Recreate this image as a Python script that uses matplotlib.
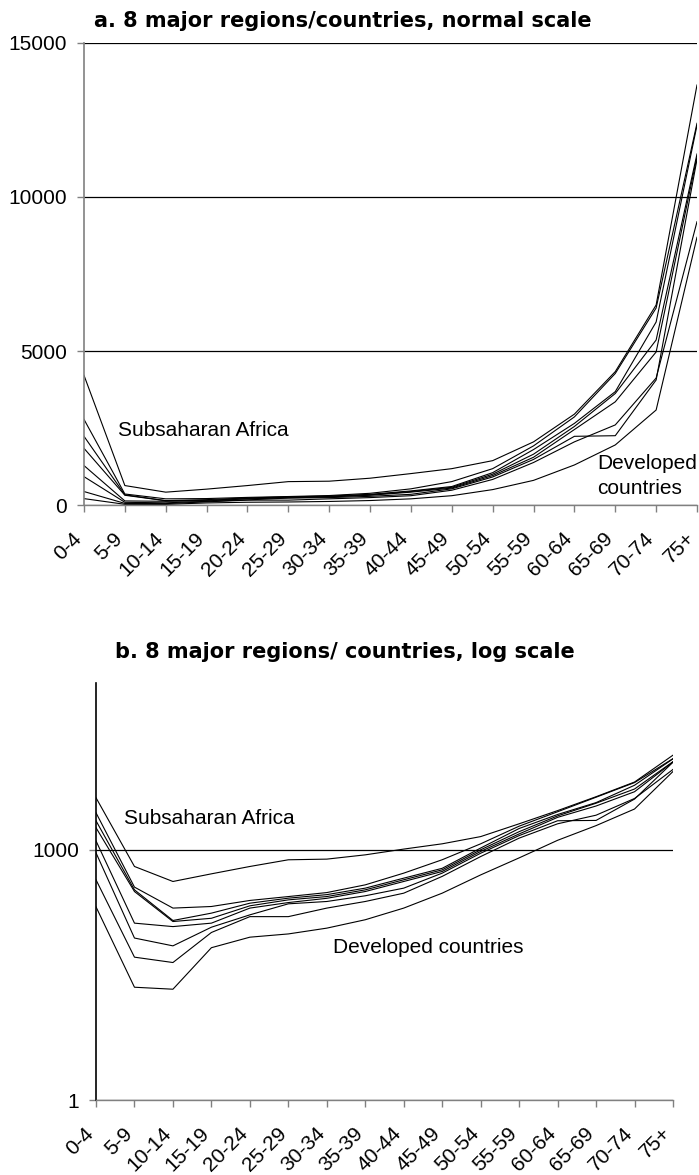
import numpy as np
import matplotlib
matplotlib.use("Agg")
import matplotlib.pyplot as plt
import matplotlib.transforms as mtransforms
from matplotlib.ticker import FixedLocator, NullLocator

plt.rcParams['font.family'] = ['Liberation Sans', 'DejaVu Sans']

age_groups = ['0-4', '5-9', '10-14', '15-19', '20-24', '25-29', '30-34', '35-39',
              '40-44', '45-49', '50-54', '55-59', '60-64', '65-69', '70-74', '75+']

# death rates by age group, one list per region
subsaharan_africa = [4210, 631, 417, 515, 631, 759, 773, 870, 1020, 1180, 1440, 2050, 2950, 4330, 6494, 13636]
region_2 = [2780, 357, 200, 209, 247, 275, 307, 380, 525, 760, 1180, 1920, 2860, 4270, 6396, 12393]
region_3 = [2230, 331, 142, 174, 229, 263, 290, 347, 457, 600, 1050, 1800, 2650, 3680, 5942, 12328]
region_4 = [1840, 316, 138, 151, 213, 251, 275, 331, 437, 575, 1000, 1650, 2550, 3620, 5357, 11396]
region_5 = [1280, 132, 120, 132, 200, 233, 262, 316, 417, 550, 955, 1550, 2450, 3350, 4968, 11308]
region_6 = [920, 87.5, 70.5, 118, 166, 225, 240, 281, 347, 525, 910, 1480, 2230, 2250, 4058, 11224]
region_7 = [437, 51.6, 44.5, 102, 158, 158, 200, 240, 302, 480, 830, 1380, 2050, 2600, 4123, 9198]
developed_countries = [207, 22.5, 21.3, 67, 89.6, 98, 115, 145, 200, 302, 500, 800, 1300, 1950, 3084, 8692]

regions = [subsaharan_africa, region_2, region_3, region_4, region_5, region_6,
           region_7, developed_countries]

W, H = 699, 1175
fig = plt.figure(figsize=(W / 100, H / 100), dpi=100)
fig.set_facecolor('white')


def box(left, top, right, bottom):
    return [left / W, 1 - bottom / H, (right - left) / W, (bottom - top) / H]


x = np.arange(len(age_groups))
grey = '#808080'
fs = 15
shift = mtransforms.ScaledTranslation(-5 / 100, 0, fig.dpi_scale_trans)


def style(ax, spine_col):
    for s in ['top', 'right']:
        ax.spines[s].set_visible(False)
    ax.spines['left'].set_color(spine_col)
    ax.spines['bottom'].set_color(grey)
    ax.spines['left'].set_linewidth(1.2)
    ax.spines['bottom'].set_linewidth(1.0)
    ax.set_xlim(0, len(age_groups) - 1)
    ax.set_xticks(x)
    ax.set_xticklabels(age_groups, rotation=45, ha='right', va='center',
                       rotation_mode='anchor')
    ax.tick_params(axis='both', direction='out', length=5, width=1,
                   color=grey, labelsize=fs, pad=7)
    ax.tick_params(axis='x', pad=17)
    for lab in ax.get_xticklabels():
        lab.set_transform(lab.get_transform() + shift)


# a. normal scale
ax1 = fig.add_axes(box(84, 43, 697, 505))
for r in regions:
    ax1.plot(x, r, color='black', lw=0.8)
ax1.set_ylim(0, 15000)
ax1.set_yticks([0, 5000, 10000, 15000])
ax1.yaxis.grid(True, color='black', lw=0.9)
ax1.set_axisbelow(True)
style(ax1, grey)
ax1.text(0.83, 2435, 'Subsaharan Africa', fontsize=fs, va='center', ha='left')
ax1.text(12.55, 941, 'Developed\ncountries', fontsize=fs, va='center', ha='left',
         linespacing=1.35)
fig.text(343 / W, 1 - 21 / H, 'a. 8 major regions/countries, normal scale',
         ha='center', va='center', fontsize=15, fontweight='bold',
         family='DejaVu Sans')

# b. log scale
ax2 = fig.add_axes(box(96, 683, 673, 1100))
for r in regions:
    ax2.plot(x, r, color='black', lw=0.8)
ax2.set_yscale('log')
ax2.set_ylim(1, 100000)
ax2.yaxis.set_major_locator(FixedLocator([1, 1000]))
ax2.yaxis.set_minor_locator(NullLocator())
ax2.set_yticklabels(['1', '1000'])
ax2.yaxis.grid(True, color='black', lw=0.9)
ax2.set_axisbelow(True)
style(ax2, 'black')
ax2.text(0.73, 2355, 'Subsaharan Africa', fontsize=fs, va='center', ha='left')
ax2.text(6.16, 66.7, 'Developed countries', fontsize=fs, va='center', ha='left')
fig.text(345 / W, 1 - 652 / H, 'b. 8 major regions/ countries, log scale',
         ha='center', va='center', fontsize=15, fontweight='bold',
         family='DejaVu Sans')

fig.savefig('out.png', dpi=100)
